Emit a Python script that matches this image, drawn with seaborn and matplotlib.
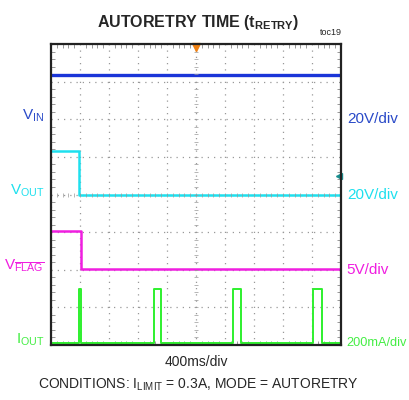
import matplotlib
matplotlib.use('Agg')
import matplotlib.pyplot as plt
import seaborn as sns
import pandas as pd
import numpy as np

# trace data, in screen divisions (x: 0-10 div, y: 0-8 div)
vin_t = [0, 10]
vin_y = [7.18, 7.18]
vout_t = [0, 0.98, 10]
vout_y = [5.16, 3.98, 3.98]
vflag_t = [0, 1.04, 10]
vflag_y = [3.04, 2.02, 2.02]
iout_t = [0, 0.97, 1.02, 3.55, 3.80, 6.29, 6.55, 9.05, 9.33, 10]
iout_y = [0.05, 1.50, 0.05, 1.50, 0.05, 1.50, 0.05, 1.50, 0.05, 0.05]

left_labels = [r'$\mathregular{V_{IN}}$', r'$\mathregular{V_{OUT}}$',
               r'$\mathregular{V_{\overline{FLAG}}}$', r'$\mathregular{I_{OUT}}$']
right_labels = ['20V/div', '20V/div', '5V/div', '200mA/div']
label_levels = [6, 4, 2, 0.05]
colors = ['#1a35d8', '#1ee0ee', '#f01ee0', '#2ef02e']
label_colors = ['#2a4ac8', '#1ee0ee', '#f01ee0', '#44ee44']

sns.set_style('white')
plt.rcParams['font.family'] = ['Liberation Sans', 'DejaVu Sans']
plt.rcParams['mathtext.fontset'] = 'custom'
plt.rcParams['mathtext.rm'] = 'Liberation Sans'
plt.rcParams['mathtext.bf'] = 'Liberation Sans:bold'

fig = plt.figure(figsize=(4.09, 4.00), dpi=100)
ax = fig.add_axes([51/409, 55/400, 290/409, 301/400])

traces = [(vin_t, vin_y, 2.4), (vout_t, vout_y, 1.8), (vflag_t, vflag_y, 1.8), (iout_t, iout_y, 1.4)]
for (t, y, lw), c in zip(traces, colors):
    d = pd.DataFrame({'t': t, 'y': y})
    sns.lineplot(data=d, x='t', y='y', color=c, lw=lw, drawstyle='steps-post',
                 estimator=None, sort=False, ax=ax)

ax.set_xlim(0, 10)
ax.set_ylim(0, 8)
ax.set_xticks(range(11))
ax.set_yticks(range(9))
ax.set_xticks(np.arange(0, 10.01, 0.2), minor=True)
ax.set_yticks(np.arange(0, 8.01, 0.2), minor=True)
ax.grid(True, which='major', color='#999999', linestyle=(0, (1, 4)), lw=0.9)
ax.tick_params(which='both', direction='in', top=True, right=True, bottom=True, left=True,
               labelbottom=False, labelleft=False, color='#888888')
ax.tick_params(which='major', length=0)
ax.tick_params(which='minor', length=3, width=0.6)
ax.set_xlabel('')
ax.set_ylabel('')
for s in ax.spines.values():
    s.set_color('#222222')
    s.set_linewidth(1.6)

# center cross ticks
cx = np.arange(0, 10.01, 0.2)
cy = np.arange(0, 8.01, 0.2)
ax.plot(cx, np.full_like(cx, 4), ls='none', marker='|', ms=3, color='#999999', mew=0.5)
ax.plot(np.full_like(cy, 5), cy, ls='none', marker='_', ms=3, color='#999999', mew=0.5)

# trigger markers
ax.plot([5], [7.93], marker='v', ms=6, color='#f08010', clip_on=False)
ax.plot([9.93], [4.48], marker='<', ms=4, color='#1a9090', clip_on=False)

for lab, rlab, lev, c in zip(left_labels, right_labels, label_levels, label_colors):
    ax.text(-0.22, lev + 0.1, lab, color=c, fontsize=11, ha='right', va='center')
    fs = 9.2 if rlab == '200mA/div' else 11
    ax.text(10.2, lev, rlab, color=c, fontsize=fs, ha='left', va='center')

fig.text(0.485, 0.945, r'AUTORETRY TIME (t$\mathbf{_{RETRY}}$)', ha='center', va='center',
         fontsize=11.5, fontweight='bold')
fig.text(0.81, 0.918, 'toc19', ha='center', va='center', fontsize=6.5)
fig.text(0.48, 0.095, '400ms/div', ha='center', va='center', fontsize=10)
fig.text(0.485, 0.037, r'CONDITIONS: I$_{\mathregular{LIMIT}}$ = 0.3A, MODE = AUTORETRY',
         ha='center', va='center', fontsize=10)

fig.savefig('out.png', dpi=100)
